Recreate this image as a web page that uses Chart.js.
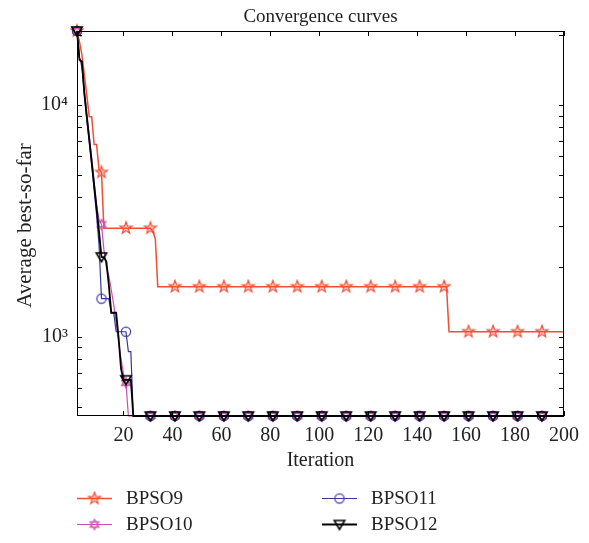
<!DOCTYPE html>
<html><head><meta charset="utf-8">
<script src="https://cdn.jsdelivr.net/npm/chart.js@4/dist/chart.umd.min.js"></script>
<style>html,body{margin:0;padding:0;background:#fff;}</style>
</head><body>
<canvas id="c" width="589" height="543"></canvas>
<script>
// ---------- data ----------
const titleText = 'Convergence curves';
const xTitle = 'Iteration';
const yTitle = 'Average best-so-far';
const seriesNames = ['BPSO9', 'BPSO10', 'BPSO11', 'BPSO12'];
const xTicks = [20, 40, 60, 80, 100, 120, 140, 160, 180, 200];
const yTicks = [500, 600, 700, 800, 900, 1000, 2000, 3000, 4000, 5000, 6000, 7000, 8000, 9000, 10000, 20000];
const yTickLabels = { 1000: '10³', 10000: '10⁴' };

// line vertices (iteration, average best-so-far)
const bpso9Iter = [1, 2, 3, 4, 5, 6, 7, 8, 9, 10, 11, 12, 31, 32, 33, 34, 152, 153, 200];
const bpso9Val  = [20850, 18750, 16500, 13500, 11070, 8890, 8890, 6750, 6750, 5260, 5120, 2940, 2940, 2840, 2650, 1645, 1645, 1052, 1052];

const bpso10Iter = [1, 2, 3, 4, 5, 6, 7, 8, 9, 10, 11, 12, 13, 14, 15, 16, 17, 18, 19, 20, 21, 22, 200];
const bpso10Val  = [20850, 16000, 14500, 11500, 9100, 7300, 5900, 4600, 3700, 3200, 3055, 2370, 1985, 1830, 1595, 1375, 1150, 950, 800, 690, 633, 455, 455];

const bpso11Iter = [1, 2, 3, 4, 5, 6, 7, 8, 9, 10, 11, 14, 15, 16, 17, 21, 22, 23, 24, 200];
const bpso11Val  = [20850, 16000, 15000, 11000, 8600, 6900, 5500, 4300, 3350, 2500, 1460, 1460, 1270, 1270, 1051, 1051, 862, 862, 455, 455];

const bpso12Iter = [1, 2, 3, 4, 5, 6, 7, 8, 9, 10, 11, 12, 13, 14, 15, 17, 18, 19, 20, 23, 24, 200];
const bpso12Val  = [20850, 15660, 15400, 11300, 8950, 7160, 5690, 4530, 3600, 2840, 2210, 2200, 2110, 1677, 1269, 1269, 990, 727, 652, 652, 455, 455];

// marker positions (every 10 iterations)
const markerIter = [1, 11, 21, 31, 41, 51, 61, 71, 81, 91, 101, 111, 121, 131, 141, 151, 161, 171, 181, 191];
const bpso9Mark  = [20850, 5120, 2940, 2940, 1645, 1645, 1645, 1645, 1645, 1645, 1645, 1645, 1645, 1645, 1645, 1645, 1052, 1052, 1052, 1052];
const bpso10Mark = [20850, 3055, 633, 455, 455, 455, 455, 455, 455, 455, 455, 455, 455, 455, 455, 455, 455, 455, 455, 455];
const bpso11Mark = [20850, 1460, 1051, 455, 455, 455, 455, 455, 455, 455, 455, 455, 455, 455, 455, 455, 455, 455, 455, 455];
const bpso12Mark = [20850, 2210, 652, 455, 455, 455, 455, 455, 455, 455, 455, 455, 455, 455, 455, 455, 455, 455, 455, 455];

// ---------- styling ----------
const FONT = '"Liberation Serif", "DejaVu Serif", serif';
const COLORS = ['rgb(240,78,55)', 'rgb(205,80,175)', 'rgb(58,55,150)', '#000000'];
const WIDTHS = [1.5, 1.2, 1.2, 1.8];

function makeMarker(kind, color) {
  const c = document.createElement('canvas');
  c.width = 16; c.height = 16;
  const g = c.getContext('2d');
  const cx = 8, cy = 8;
  g.strokeStyle = color;
  g.lineJoin = 'miter';
  g.beginPath();
  if (kind === 'star5') {
    for (let i = 0; i < 10; i++) {
      const r = i % 2 === 0 ? 6.3 : 2.6;
      const a = -Math.PI / 2 + i * Math.PI / 5;
      const px = cx + r * Math.cos(a), py = cy + r * Math.sin(a);
      i === 0 ? g.moveTo(px, py) : g.lineTo(px, py);
    }
    g.closePath();
    g.fillStyle = 'rgba(240,78,55,0.3)';
    g.fill();
    g.lineWidth = 1.2;
    g.stroke();
  } else if (kind === 'star6') {
    for (let k = 0; k < 2; k++) {
      const off = k === 0 ? -Math.PI / 2 : Math.PI / 2;
      for (let i = 0; i < 3; i++) {
        const a = off + i * 2 * Math.PI / 3;
        const px = cx + 5.2 * Math.cos(a), py = cy + 5.2 * Math.sin(a);
        i === 0 ? g.moveTo(px, py) : g.lineTo(px, py);
      }
      g.closePath();
    }
    g.lineWidth = 1.1;
    g.stroke();
  } else if (kind === 'circle') {
    g.arc(cx, cy, 4.6, 0, Math.PI * 2);
    g.lineWidth = 1.2;
    g.stroke();
  } else if (kind === 'tridown') {
    g.moveTo(cx - 5.2, cy - 4);
    g.lineTo(cx + 5.2, cy - 4);
    g.lineTo(cx, cy + 5);
    g.closePath();
    g.lineWidth = 1.6;
    g.stroke();
  }
  return c;
}
const MARKERS = [makeMarker('star5', COLORS[0]), makeMarker('star6', COLORS[1]),
                 makeMarker('circle', COLORS[2]), makeMarker('tridown', COLORS[3])];

const lineIters = [bpso9Iter, bpso10Iter, bpso11Iter, bpso12Iter];
const lineVals = [bpso9Val, bpso10Val, bpso11Val, bpso12Val];
const markVals = [bpso9Mark, bpso10Mark, bpso11Mark, bpso12Mark];
const drawOrder = [3, 2, 1, 0];

const datasets = [];
for (let s = 0; s < 4; s++) {
  datasets.push({
    label: seriesNames[s],
    data: lineIters[s].map((x, i) => ({ x: x, y: lineVals[s][i] })),
    borderColor: COLORS[s], borderWidth: WIDTHS[s],
    pointRadius: 0, fill: false, tension: 0, clip: false, order: drawOrder[s]
  });
  datasets.push({
    label: seriesNames[s] + ' markers',
    data: markerIter.map((x, i) => ({ x: x, y: markVals[s][i] })),
    showLine: false, pointStyle: MARKERS[s], pointRadius: 6,
    clip: false, order: drawOrder[s]
  });
}

const PLOT_TOP = 31, PLOT_RIGHT_PAD = 25, Y_AXIS_W = 77, X_AXIS_H = 127;

const decor = {
  id: 'decor',
  afterDraw(chart) {
    const ctx = chart.ctx;
    const a = chart.chartArea;
    const xs = chart.scales.x, ys = chart.scales.y;
    ctx.save();
    ctx.strokeStyle = '#000';
    ctx.lineWidth = 1;
    // box
    ctx.strokeRect(Math.round(a.left) + 0.5, Math.round(a.top) + 0.5,
                   Math.round(a.right - a.left) - 1, Math.round(a.bottom - a.top) - 1);
    // inward ticks
    ctx.beginPath();
    xTicks.forEach(v => {
      const px = Math.round(xs.getPixelForValue(v)) + 0.5;
      ctx.moveTo(px, a.bottom); ctx.lineTo(px, a.bottom - 5);
      ctx.moveTo(px, a.top); ctx.lineTo(px, a.top + 5);
    });
    yTicks.forEach(v => {
      const py = Math.round(ys.getPixelForValue(v)) + 0.5;
      ctx.moveTo(a.left, py); ctx.lineTo(a.left + 5, py);
      ctx.moveTo(a.right, py); ctx.lineTo(a.right - 5, py);
    });
    ctx.stroke();

    ctx.fillStyle = '#222';
    // title
    ctx.font = '19px ' + FONT;
    ctx.textAlign = 'center';
    ctx.textBaseline = 'alphabetic';
    ctx.fillText(titleText, (a.left + a.right) / 2, 22);
    // x title
    ctx.font = '20px ' + FONT;
    ctx.fillText(xTitle, (a.left + a.right) / 2, 466);
    // y title
    ctx.save();
    ctx.font = '21px ' + FONT;
    ctx.translate(25, (a.top + a.bottom) / 2 + 2);
    ctx.rotate(-Math.PI / 2);
    ctx.textBaseline = 'middle';
    ctx.fillText(yTitle, 0, 0);
    ctx.restore();

    // legend
    const cols = [77, 322];
    const rows = [498, 524];
    const place = [[0, 0], [0, 1], [1, 0], [1, 1]];
    ctx.font = '19px ' + FONT;
    ctx.textAlign = 'left';
    ctx.textBaseline = 'middle';
    for (let s = 0; s < 4; s++) {
      const x0 = cols[place[s][0]], y0 = rows[place[s][1]];
      ctx.strokeStyle = COLORS[s];
      ctx.lineWidth = WIDTHS[s];
      ctx.beginPath();
      ctx.moveTo(x0, y0 + 0.5); ctx.lineTo(x0 + 35, y0 + 0.5);
      ctx.stroke();
      const m = MARKERS[s];
      ctx.drawImage(m, x0 + 17.5 - m.width / 2, y0 + 0.5 - m.height / 2);
      ctx.fillStyle = '#222';
      ctx.fillText(seriesNames[s], x0 + 49, y0 + 1);
    }
    ctx.restore();
  }
};

new Chart(document.getElementById('c'), {
  type: 'line',
  data: { datasets: datasets },
  options: {
    responsive: false,
    animation: false,
    devicePixelRatio: 1,
    layout: { padding: { top: PLOT_TOP, right: PLOT_RIGHT_PAD, left: 0, bottom: 0 } },
    plugins: { legend: { display: false }, tooltip: { enabled: false }, title: { display: false } },
    scales: {
      x: {
        type: 'linear', min: 1, max: 200,
        grid: { display: false, drawTicks: false },
        border: { display: false },
        afterBuildTicks: s => { s.ticks = xTicks.map(v => ({ value: v })); },
        afterFit: s => { s.height = X_AXIS_H; },
        ticks: { font: { family: FONT, size: 20 }, color: '#222', padding: 8, maxRotation: 0,
                 callback: v => String(v) }
      },
      y: {
        type: 'logarithmic', min: 455, max: 20850,
        grid: { display: false, drawTicks: false },
        border: { display: false },
        afterBuildTicks: s => { s.ticks = yTicks.map(v => ({ value: v })); },
        afterFit: s => { s.width = Y_AXIS_W; },
        ticks: { font: { family: FONT, size: 20 }, color: '#222', padding: 9, autoSkip: false,
                 callback: v => (yTickLabels[v] || '') }
      }
    }
  },
  plugins: [decor]
});
</script>
</body></html>
